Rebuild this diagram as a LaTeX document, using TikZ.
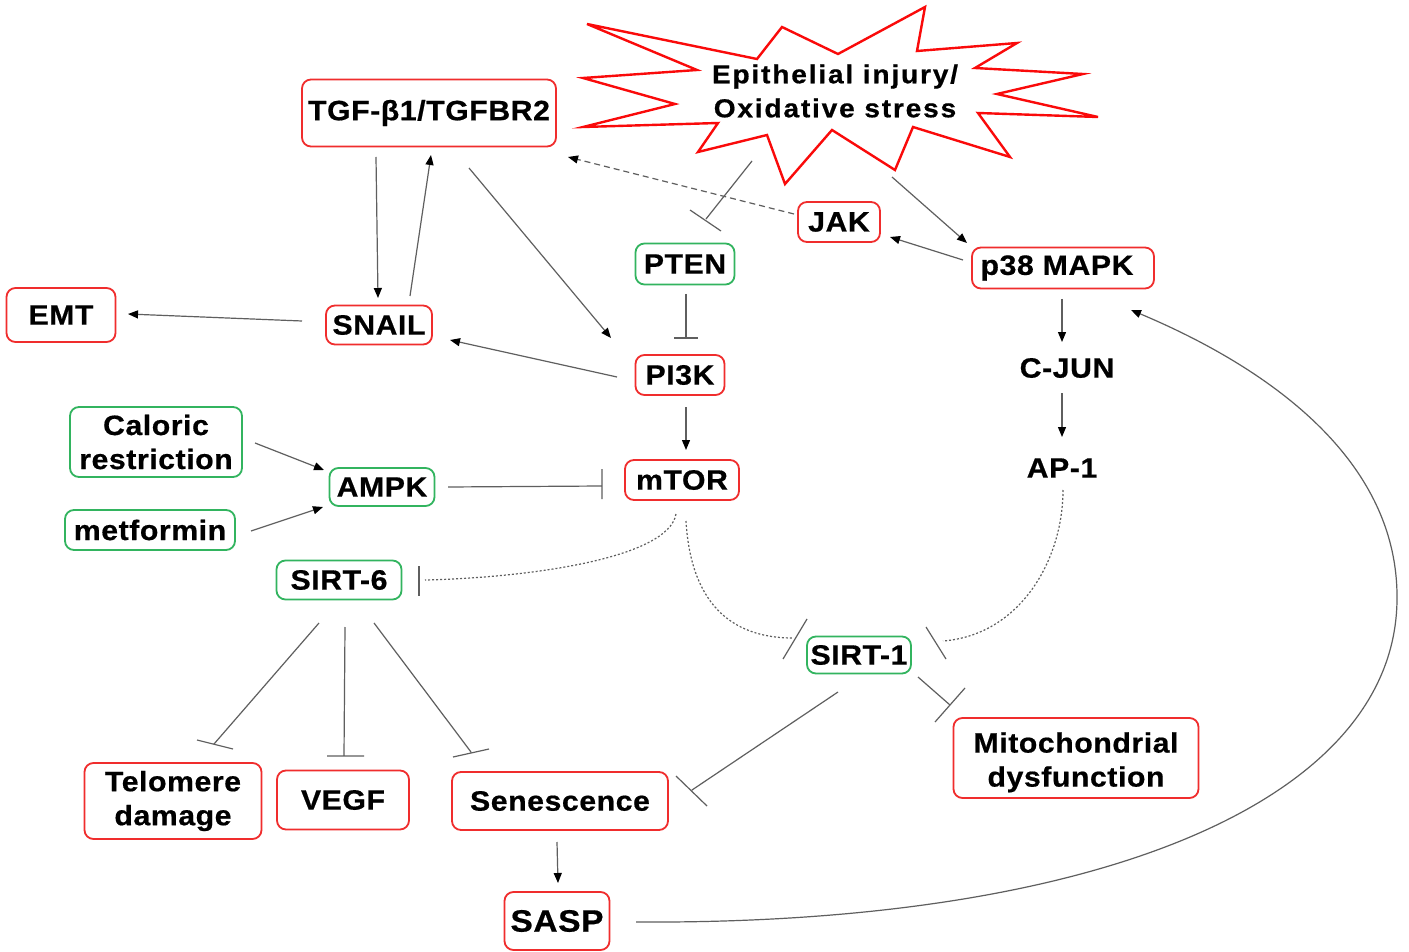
\documentclass[tikz,border=0pt]{standalone}
\usepackage{fontspec}
\setmainfont{Liberation Sans}[FakeStretch=1.08,LetterSpace=2,BoldFeatures={FakeBold=0.6}]
\usetikzlibrary{arrows.meta,calc}
\definecolor{boxred}{RGB}{240,45,45}
\definecolor{boxgreen}{RGB}{50,180,95}
\definecolor{burstred}{RGB}{250,10,10}
\definecolor{linegray}{RGB}{95,95,95}
\tikzset{
  lab/.style={font=\bfseries\fontsize{28}{34}\selectfont, align=center, inner sep=0pt},
  rbox/.style={lab, draw=boxred, line width=1.8pt, rounded corners=9pt},
  gbox/.style={lab, draw=boxgreen, line width=1.8pt, rounded corners=9pt},
  act/.style={draw=linegray, line width=1.2pt, -{Triangle[length=10pt,width=8pt,color=black,fill=black]}},
  inh/.style={draw=linegray, line width=1.2pt},
  dashact/.style={act, dash pattern=on 6pt off 4pt},
  dotinh/.style={inh, dash pattern=on 2pt off 2pt},
}
\begin{document}
\begin{tikzpicture}[x=1pt,y=-1pt]
\useasboundingbox[fill=white] (0,0) rectangle (1409,952);

% starburst
\draw[burstred, line width=2.4pt, line join=miter]
  (587,24) -- (757,59) -- (782,27) -- (838,54) -- (925,7) -- (917,51) -- (1017,43)
  -- (975,68) -- (1083,74) -- (997,94) -- (1098,117) -- (978,113) -- (1010,157)
  -- (913,127) -- (895,170) -- (832,130) -- (785,184) -- (767,135) -- (698,152)
  -- (718,123) -- (583,127) -- (675,104) -- (583,78) -- (697,70) -- cycle;
\node[lab, font=\bfseries\fontsize{26}{34}\selectfont\addfontfeatures{LetterSpace=7}] (burst) at (835,91) {Epithelial injury/\\Oxidative stress};

% nodes
\node[rbox, minimum width=254pt, minimum height=67pt] (tgf) at (429,113) {TGF-β1/TGFBR2};
\node[rbox, minimum width=82pt, minimum height=40pt] (jak) at (839,222) {JAK};
\node[gbox, minimum width=99pt, minimum height=41pt] (pten) at (685,264) {PTEN};
\node[rbox, minimum width=182pt, minimum height=41pt] (p38) at (1063,268) {p38 MAPK\hspace{12pt}};
\node[rbox, minimum width=109pt, minimum height=54pt] (emt) at (61,315) {EMT};
\node[rbox, minimum width=106pt, minimum height=39pt] (snail) at (379,325) {SNAIL};
\node[rbox, minimum width=89pt, minimum height=40pt] (pi3k) at (680,375) {PI3K};
\node[lab] (cjun) at (1067,368) {C-JUN};
\node[lab] (ap1) at (1062,468) {AP-1};
\node[gbox, minimum width=172pt, minimum height=70pt] (caloric) at (156,442) {Caloric\\restriction};
\node[gbox, minimum width=105pt, minimum height=38pt] (ampk) at (382,487) {AMPK};
\node[rbox, minimum width=114pt, minimum height=40pt] (mtor) at (682,480) {mTOR};
\node[gbox, minimum width=170pt, minimum height=40pt] (metformin) at (150,530) {metformin};
\node[gbox, minimum width=125pt, minimum height=39pt] (sirt6) at (339,580) {SIRT-6};
\node[gbox, minimum width=104pt, minimum height=37pt] (sirt1) at (859,655) {SIRT-1};
\node[rbox, minimum width=245pt, minimum height=80pt] (mito) at (1076,758) {\raisebox{-11pt}[0pt][0pt]{\begin{tabular}{@{}c@{}}Mitochondrial\\dysfunction\end{tabular}}};
\node[rbox, minimum width=177pt, minimum height=76pt] (telomere) at (173,801) {Telomere\\damage};
\node[rbox, minimum width=132pt, minimum height=59pt] (vegf) at (343,800) {VEGF};
\node[rbox, minimum width=216pt, minimum height=58pt] (senescence) at (560,801) {Senescence};
\node[rbox, minimum width=105pt, minimum height=58pt, font=\bfseries\fontsize{31}{34}\selectfont] (sasp) at (557,921) {SASP};

% activations
\draw[act] ($(tgf)+(-53,44)$) -- ($(snail)+(-1,-27)$);
\draw[act] ($(snail)+(31,-29)$) -- ($(tgf)+(2,42)$);
\draw[act] ($(tgf)+(40,55)$) -- ($(pi3k)+(-69,-37)$);
\draw[act] ($(pi3k)+(-63,2)$) -- ($(snail)+(71,15)$);
\draw[act] ($(snail)+(-77,-4)$) -- ($(emt)+(67,-1)$);
\draw[dashact] ($(jak)+(-45,-8)$) -- ($(tgf)+(139,44)$);
\draw[act] ($(burst)+(57,86)$) -- ($(p38)+(-96,-25)$);
\draw[act] ($(p38)+(-100,-8)$) -- ($(jak)+(51,15)$);
\draw[act] ($(pi3k)+(6,32)$) -- ($(mtor)+(4,-30)$);
\draw[act] ($(p38)+(-1,31)$) -- ($(cjun)+(-5,-26)$);
\draw[act] ($(cjun)+(-5,25)$) -- ($(ap1)+(0,-31)$);
\draw[act] ($(caloric)+(99,1)$) -- ($(ampk)+(-58,-17)$);
\draw[act] ($(metformin)+(101,1)$) -- ($(ampk)+(-59,20)$);
\draw[act] ($(senescence)+(-3,41)$) -- ($(sasp)+(1,-38)$);
\draw[act] ($(sasp)+(79,1)$) .. controls (1100,925) and (1395,800) .. (1397,600)
  .. controls (1399,450) and (1250,360) .. ($(p38)+(68,42)$);

% inhibitions
\draw[inh] ($(burst)+(-83,70)$) -- ($(pten)+(21,-45)$)
  ($(pten)+(5,-54)$) -- ($(pten)+(36,-33)$);
\draw[inh] ($(pten)+(1,30)$) -- ($(pi3k)+(6,-37)$)
  ($(pi3k)+(-6,-37)$) -- ($(pi3k)+(18,-37)$);
\draw[inh] ($(ampk)+(66,0)$) -- ($(mtor)+(-80,6)$)
  ($(mtor)+(-80,-11)$) -- ($(mtor)+(-80,19)$);
\draw[dotinh] ($(mtor)+(-6,34)$) .. controls (668,560) and (520,578) .. ($(sirt6)+(86,0)$);
\draw[inh] ($(sirt6)+(80,-14)$) -- ($(sirt6)+(80,16)$);
\draw[dotinh] ($(mtor)+(4,41)$) .. controls (690,590) and (720,638) .. ($(sirt1)+(-66,-17)$);
\draw[inh] ($(sirt1)+(-52,-36)$) -- ($(sirt1)+(-76,4)$);
\draw[dotinh] ($(ap1)+(1,22)$) .. controls (1063,560) and (1020,635) .. ($(sirt1)+(84,-14)$);
\draw[inh] ($(sirt1)+(67,-28)$) -- ($(sirt1)+(87,4)$);
\draw[inh] ($(sirt1)+(59,22)$) -- ($(mito)+(-126,-53)$)
  ($(mito)+(-111,-70)$) -- ($(mito)+(-141,-36)$);
\draw[inh] ($(sirt1)+(-21,37)$) -- ($(senescence)+(132,-11)$)
  ($(senescence)+(116,-25)$) -- ($(senescence)+(147,5)$);
\draw[inh] ($(sirt6)+(-20,43)$) -- ($(telomere)+(41,-57)$)
  ($(telomere)+(24,-61)$) -- ($(telomere)+(60,-52)$);
\draw[inh] ($(sirt6)+(6,47)$) -- ($(vegf)+(1,-44)$)
  ($(vegf)+(-16,-44)$) -- ($(vegf)+(21,-44)$);
\draw[inh] ($(sirt6)+(35,43)$) -- ($(senescence)+(-89,-49)$)
  ($(senescence)+(-107,-44)$) -- ($(senescence)+(-71,-52)$);
\end{tikzpicture}
\end{document}
